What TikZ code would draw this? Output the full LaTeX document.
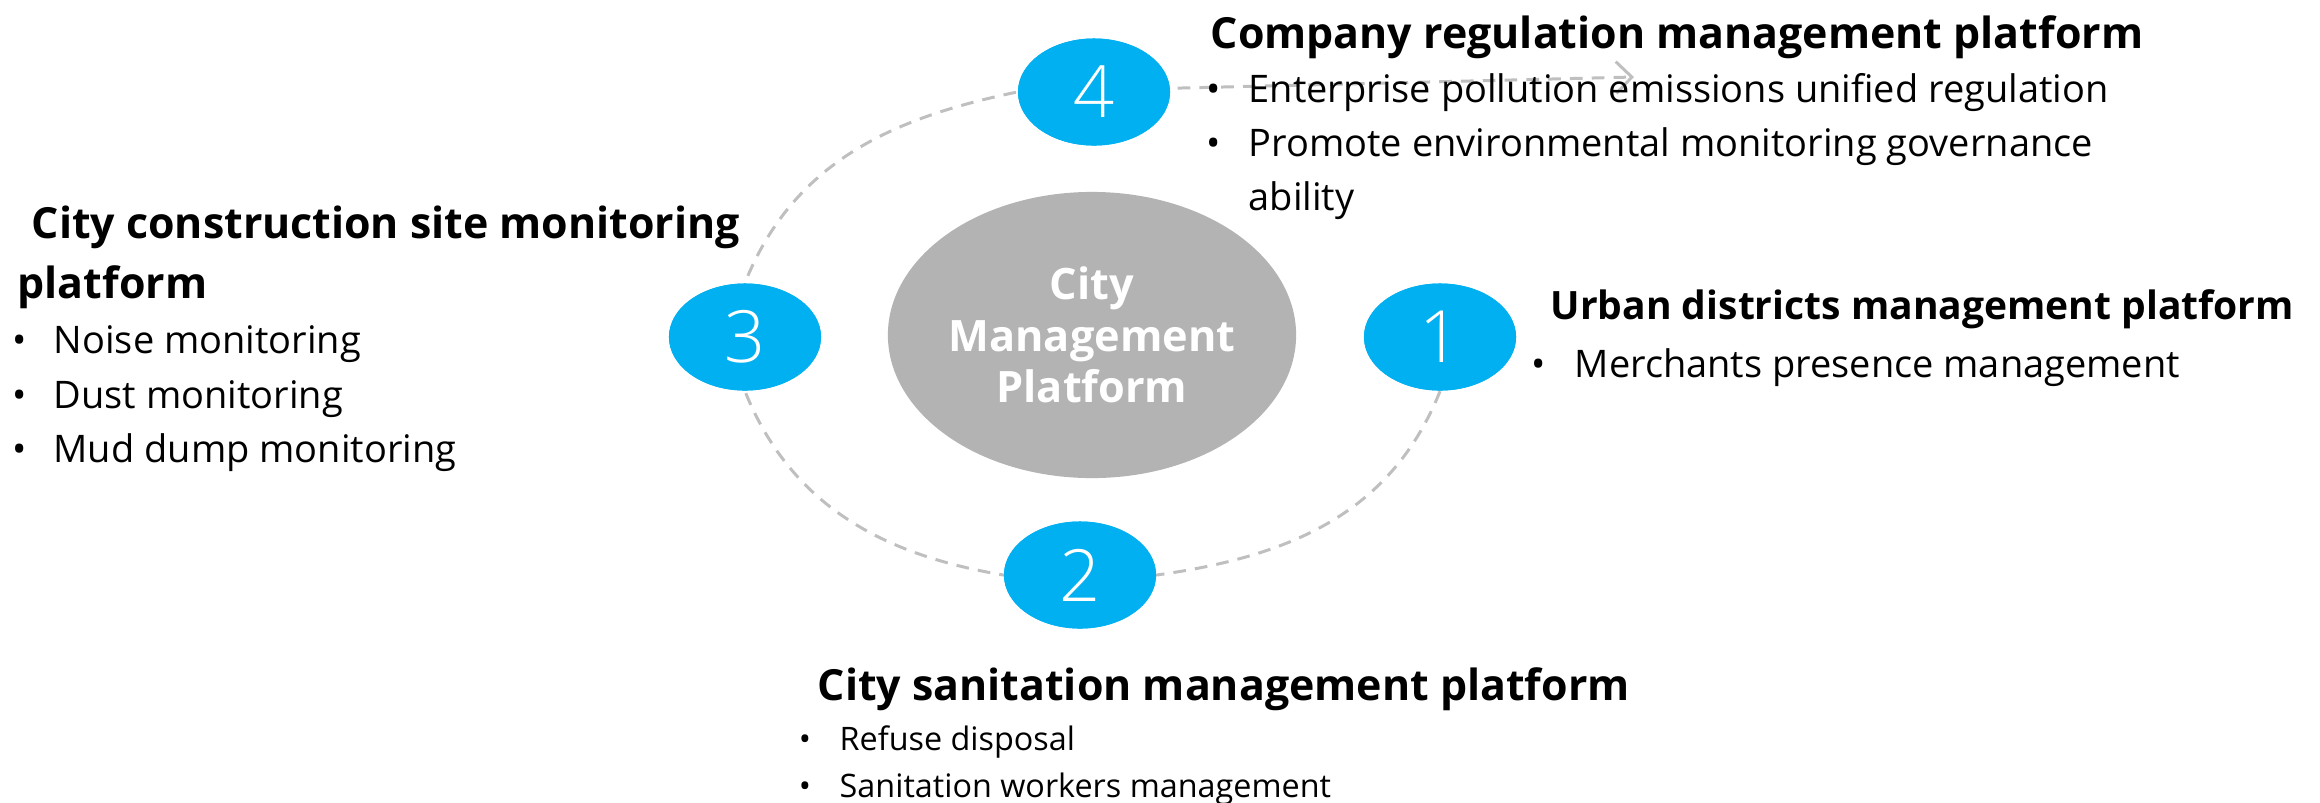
\documentclass[tikz,border=0pt]{standalone}
\usepackage{fontspec}
\setmainfont{Open Sans}
\newfontfamily\digitfont{Open Sans Light}
\usetikzlibrary{arrows.meta,shapes.geometric}
\definecolor{badgeblue}{HTML}{00B0F0}
\definecolor{hubgrey}{HTML}{B3B3B3}
\definecolor{ringgrey}{HTML}{BFBFBF}
\begin{document}
\begin{tikzpicture}[x=0.01cm,y=-0.01cm,
  badge/.style={ellipse, fill=badgeblue, minimum width=1.52cm, minimum height=1.07cm,
    inner sep=0pt, text=white, font=\digitfont\fontsize{20.5}{20.5}\selectfont},
  hub/.style={ellipse, fill=hubgrey, minimum width=4.08cm, minimum height=2.86cm,
    inner sep=0pt, text=white, align=center, font=\fontsize{12.3}{14.7}\selectfont\bfseries},
  heading/.style={anchor=base west, inner sep=0pt, font=\fontsize{12.2}{16}\selectfont\bfseries},
  item/.style={anchor=base west, inner sep=0pt, font=\fontsize{10.8}{15}\selectfont},
  smallitem/.style={anchor=base west, inner sep=0pt, font=\fontsize{9.2}{13}\selectfont},
  dot/.style={anchor=base, inner sep=0pt, font=\fontsize{10.8}{15}\selectfont},
  smalldot/.style={anchor=base, inner sep=0pt, font=\fontsize{9.2}{13}\selectfont},
  ring/.style={draw=ringgrey, line width=0.85pt, dash pattern=on 3.6pt off 2.6pt}
]
\useasboundingbox (0,0) rectangle (2320,802);

% the four numbered platforms around the hub
\node[badge] (c1) at (1440,337) {1};
\node[badge] (c2) at (1080,575) {2};
\node[badge] (c3) at (745,337) {3};
\node[badge] (c4) at (1094,92) {4};
\coordinate (tip) at (1634,77);

% dashed ring through the badges, ending in an arrow
\draw[ring, -{Straight Barb[length=4.5pt,width=9pt]}]
  (c1.south) .. controls (1392,511) and (1294,556) .. (c2.east)
  -- (c2.west) .. controls (891,556) and (793,511) .. (c3.south)
  -- (c3.north) .. controls (793,163) and (891,118) .. (c4.west)
  -- (tip);

% badges again, over the ring
\node[badge] at (c1) {1};
\node[badge] at (c2) {2};
\node[badge] at (c3) {3};
\node[badge] at (c4) {4};

% central hub
\node[hub] (hub) at (1092,335) {City\\Management\\Platform};

% platform 4
\node[heading] (h4) at (1210,48) {Company regulation management platform};
\node[dot] (d41) at (1214,102) {•};
\node[item] (t41) at (1248,102) {Enterprise pollution emissions unified regulation};
\node[dot] (d42) at (1214,156) {•};
\node[item] (t42) at (1248,156) {Promote environmental monitoring governance};
\node[item] (t43) at (1248,210) {ability};

% platform 3
\node[heading] (h3a) at (31,238) {City construction site monitoring};
\node[heading] (h3b) at (17,298) {platform};
\node[dot] (d31) at (20,353) {•};
\node[item] (t31) at (53,353) {Noise monitoring};
\node[dot] (d32) at (20,408) {•};
\node[item] (t32) at (53,408) {Dust monitoring};
\node[dot] (d33) at (20,462) {•};
\node[item] (t33) at (53,462) {Mud dump monitoring};

% platform 1 (heading set a little tighter to fit the right edge)
\node[heading, font=\fontsize{11.1}{16}\selectfont\bfseries] (h1) at (1550,319)
  {Urban districts management platform};
\node[dot] (d11) at (1539,377) {•};
\node[item] (t11) at (1574,377) {Merchants presence management};

% platform 2
\node[heading] (h2) at (817,700) {City sanitation management platform};
\node[smalldot] (d21) at (805,750) {•};
\node[smallitem] (t21) at (839,750) {Refuse disposal};
\node[smalldot] (d22) at (805,797) {•};
\node[smallitem] (t22) at (839,797) {Sanitation workers management};
\end{tikzpicture}
\end{document}
